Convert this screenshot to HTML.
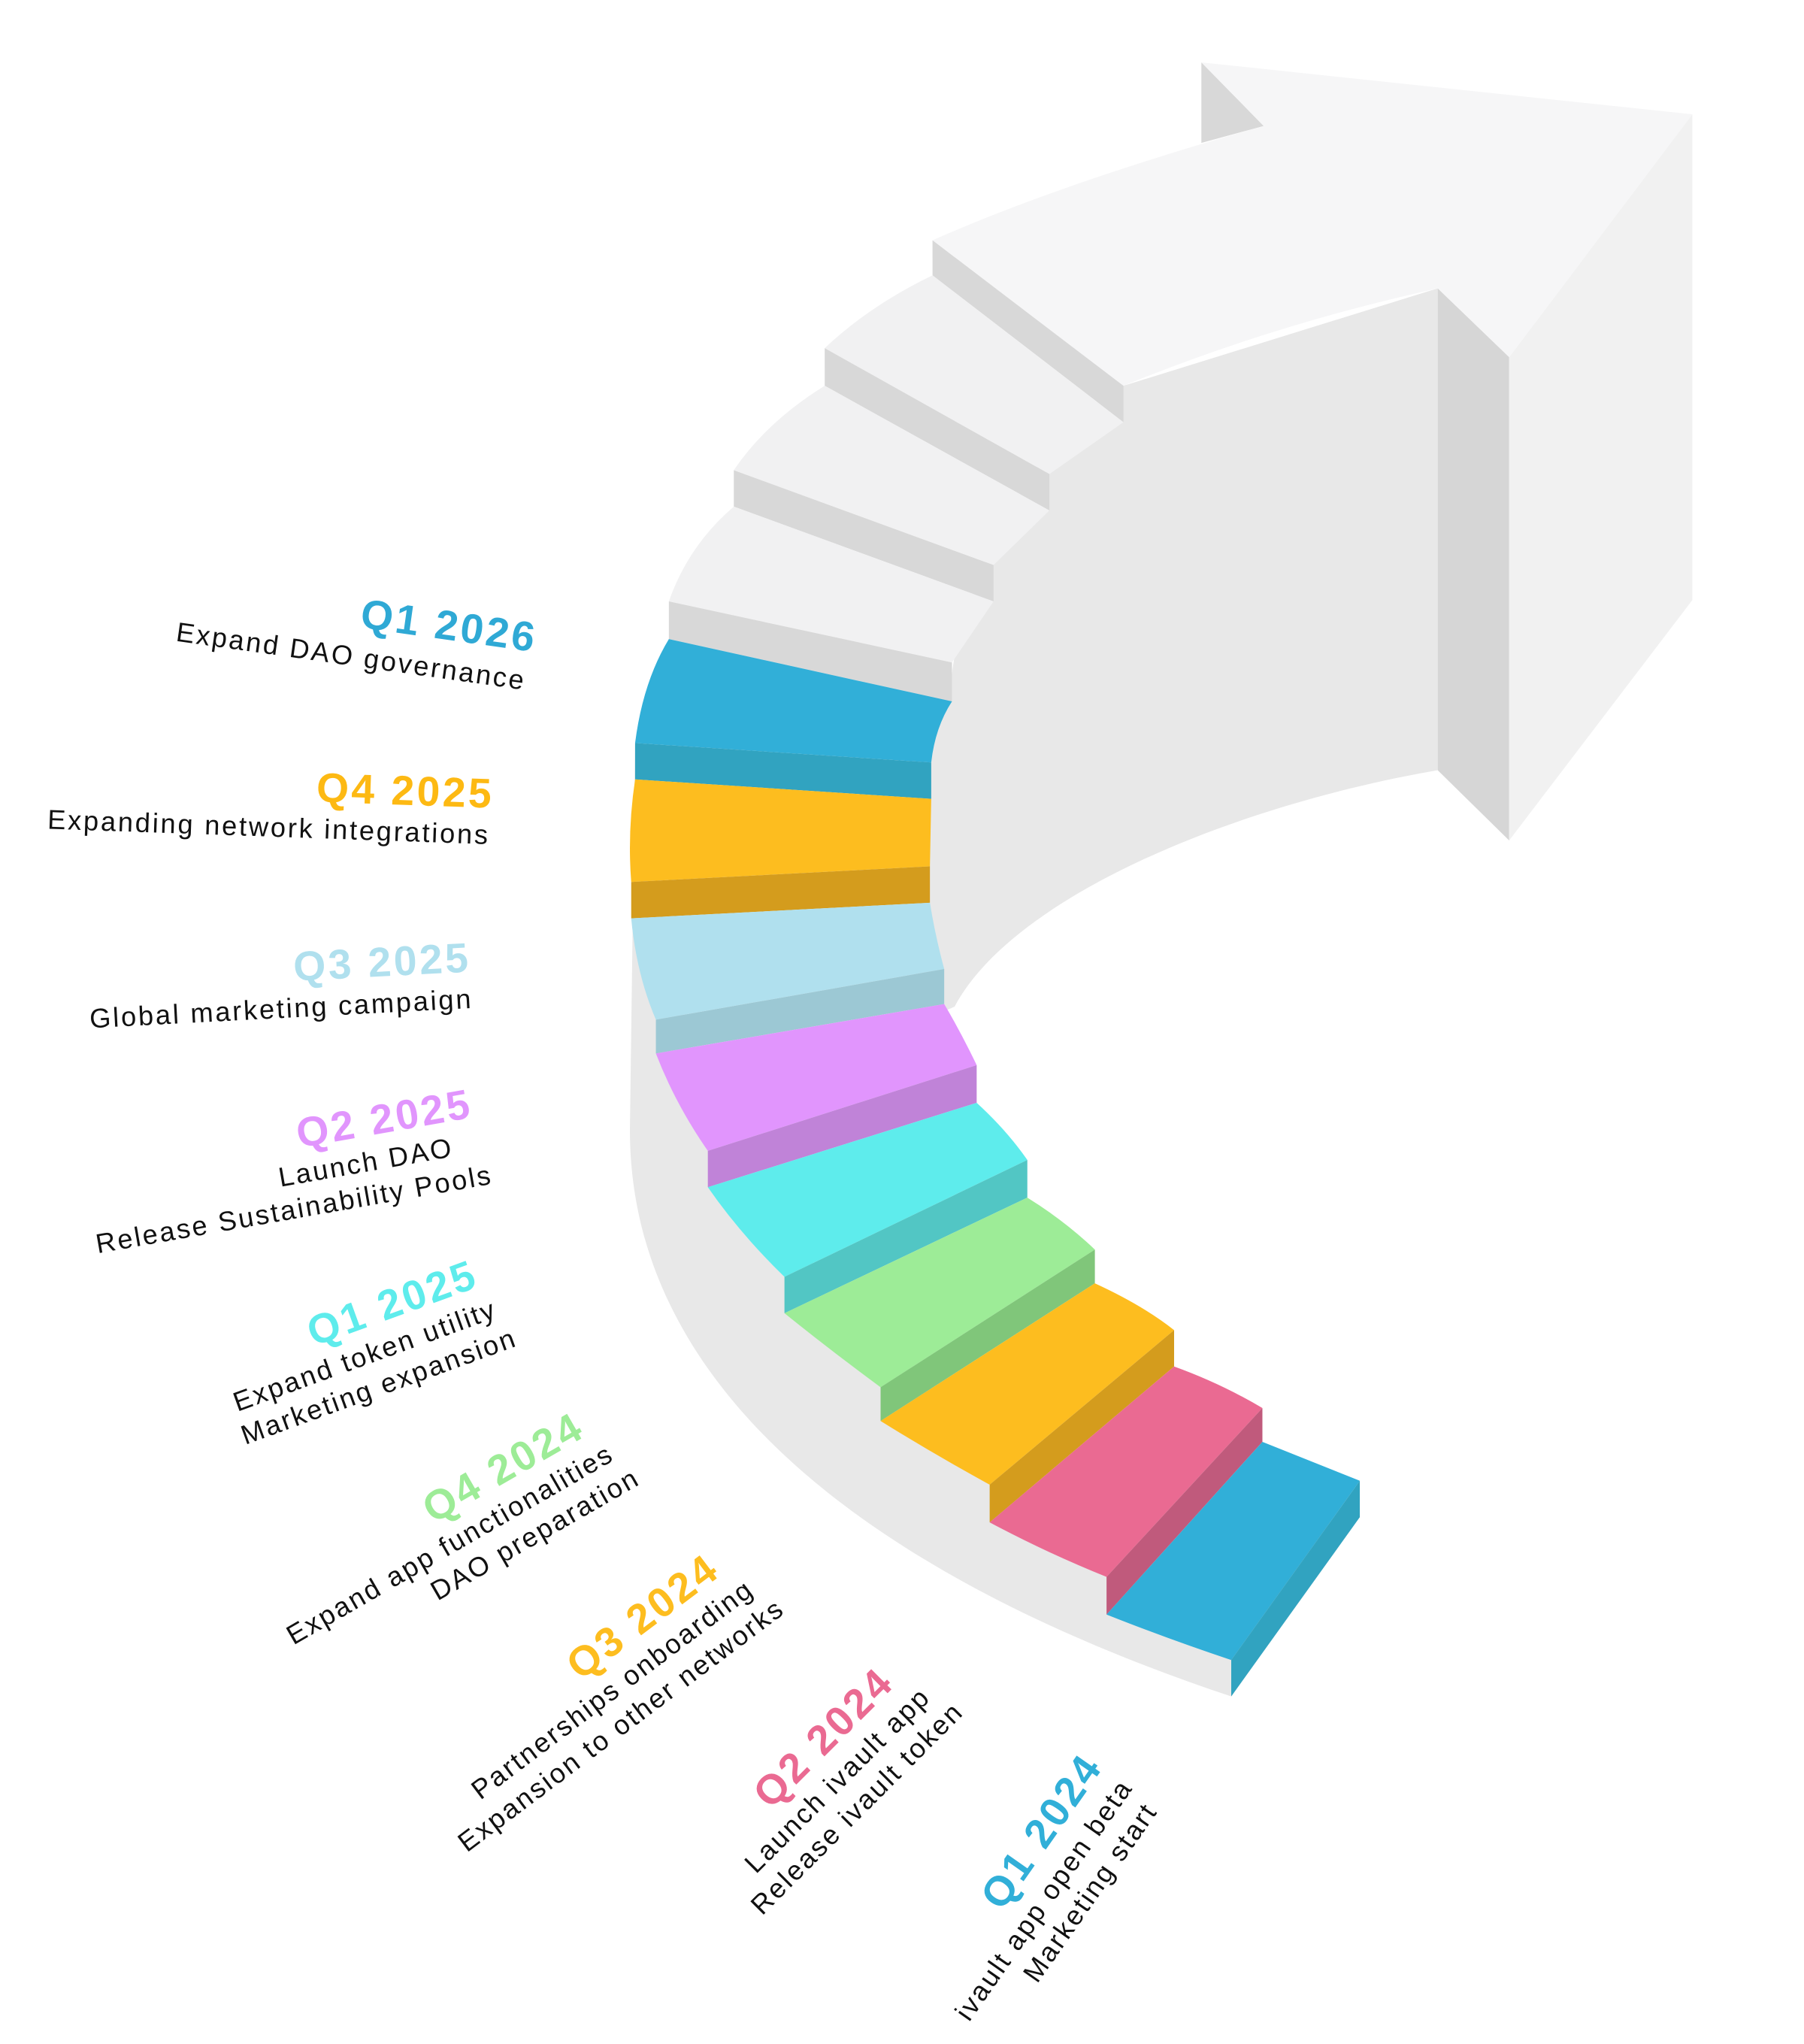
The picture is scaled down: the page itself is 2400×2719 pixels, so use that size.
<!DOCTYPE html>
<html><head><meta charset="utf-8"><style>
html,body{margin:0;padding:0;background:#fff;}
svg{display:block;}
text{font-family:"Liberation Sans",sans-serif;}
.t{font-size:32px;font-weight:bold;letter-spacing:2px;}
.s{font-size:21px;fill:#111;letter-spacing:1.6px;}
</style></head><body>
<svg width="2400" height="2719" viewBox="0 0 1389 1573.6" preserveAspectRatio="none" xmlns="http://www.w3.org/2000/svg">
<path d="M489,572 L485,870 C485,1080 690,1220 948,1306 L1047,1168 L852,1214 L545,886 Z" fill="#e8e8e8"/>
<path d="M700,520 L733,520 C735,480 790,330 865,297 L1107,222 L1107,593 C950,620 780,690 735,775 L700,790 Z" fill="#e8e8e8"/>
<polygon points="1107,222 1162,275 1162,647 1107,593" fill="#d6d6d6"/>
<polygon points="1162,275 1303,88 1303,462 1162,647" fill="#f1f1f1"/>
<polygon points="925,48 973,97 925,110" fill="#d8d8d8"/>
<path d="M718,185 Q820,140 973,97 L925,48 L1303,88 L1162,275 L1107,222 Q980,250 865,297 Z" fill="#f6f6f7"/>
<polygon points="718,185 865,297 865,325 718,212" fill="#d8d8d8"/>
<path d="M635,268 Q670,235 718,212 L865,325 L808,365 Z" fill="#f1f1f2"/>
<polygon points="635,268 808,365 808,393 635,297" fill="#d8d8d8"/>
<path d="M565,362 Q590,325 635,297 L808,393 L765,435 Z" fill="#f1f1f2"/>
<polygon points="565,362 765,435 765,463 565,390" fill="#d8d8d8"/>
<path d="M515,463 Q530,420 565,390 L765,463 L733,510 Z" fill="#f1f1f2"/>
<polygon points="515,463 733,510 733,540 515,492" fill="#d8d8d8"/>
<path d="M489,572 Q495,525 515,492 L733,540 Q720,560 717,587 Z" fill="#31afd8"/>
<polygon points="489,572 717,587 717,615 489,600" fill="#31a3c0"/>
<path d="M489,600 Q483,640 486,679 L716,667 L717,615 Z" fill="#fdbd1f"/>
<polygon points="486,679 716,667 716,695 486,707" fill="#d49c1d"/>
<path d="M486,707 Q490,750 505,785 L727,746 Q720,720 716,695 Z" fill="#b0e0ee"/>
<polygon points="505,785 727,746 727,773 505,811" fill="#9cc8d4"/>
<path d="M505,811 Q520,850 545,886 L752,820 Q740,795 727,773 Z" fill="#e195fd"/>
<polygon points="545,886 752,820 752,849 545,914" fill="#c083d8"/>
<path d="M545,914 Q570,950 604,983 L791,893 Q775,870 752,849 Z" fill="#5eecec"/>
<polygon points="604,983 791,893 791,922 604,1011" fill="#52c6c4"/>
<path d="M604,1011 Q640,1040 678,1068 L843,962 Q820,940 791,922 Z" fill="#9dec97"/>
<polygon points="678,1068 843,962 843,988 678,1094" fill="#80c67a"/>
<path d="M678,1094 Q720,1120 762,1143 L904,1024 Q880,1005 843,988 Z" fill="#fdbd1f"/>
<polygon points="762,1143 904,1024 904,1052 762,1172" fill="#d49c1d"/>
<path d="M762,1172 Q805,1195 852,1214 L972,1084 Q940,1065 904,1052 Z" fill="#ea6a92"/>
<polygon points="852,1214 972,1084 972,1110 852,1243" fill="#c05a7c"/>
<path d="M852,1243 Q900,1262 948,1278 L1047,1140 L972,1110 Z" fill="#31afd8"/>
<polygon points="948,1278 1047,1140 1047,1168 948,1306" fill="#31a3c0"/>
<g text-anchor="end">
<g transform="translate(412,502) rotate(8)"><text class="t" fill="#2fa9d5">Q1 2026</text><text class="s" x="-4" y="30">Expand DAO governance</text></g>
<g transform="translate(380,622) rotate(2)"><text class="t" fill="#fdb913">Q4 2025</text><text class="s" x="-2" y="28">Expanding network integrations</text></g>
<g transform="translate(363,748) rotate(-3)"><text class="t" fill="#b0e0ee">Q3 2025</text><text class="s" x="0" y="28">Global marketing campaign</text></g>
<g transform="translate(365,860) rotate(-10)"><text class="t" fill="#e195fd">Q2 2025</text><text class="s" x="-20" y="27">Launch DAO</text><text class="s" x="6" y="53">Release Sustainability Pools</text></g>
<g transform="translate(370,990) rotate(-20)"><text class="t" fill="#5eecec">Q1 2025</text><text class="s" x="5" y="27">Expand token utility</text><text class="s" x="12" y="53">Marketing expansion</text></g>
<g transform="translate(452,1105) rotate(-30)"><text class="t" fill="#9dec97">Q4 2024</text><text class="s" x="10" y="27">Expand app functionalities</text><text class="s" x="18" y="53">DAO preparation</text></g>
<g transform="translate(556,1212) rotate(-37)"><text class="t" fill="#fdbd1f">Q3 2024</text><text class="s" x="12" y="27">Partnerships onboarding</text><text class="s" x="22" y="53">Expansion to other networks</text></g>
<g transform="translate(690,1297) rotate(-45)"><text class="t" fill="#ea6a92">Q2 2024</text><text class="s" x="12" y="27">Launch ivault app</text><text class="s" x="22" y="53">Release ivault token</text></g>
<g transform="translate(850,1360) rotate(-55)"><text class="t" fill="#31afd8">Q1 2024</text><text class="s" x="0" y="28">ivault app open beta</text><text class="s" x="-4" y="54">Marketing start</text></g>
</g>
</svg>
</body></html>
